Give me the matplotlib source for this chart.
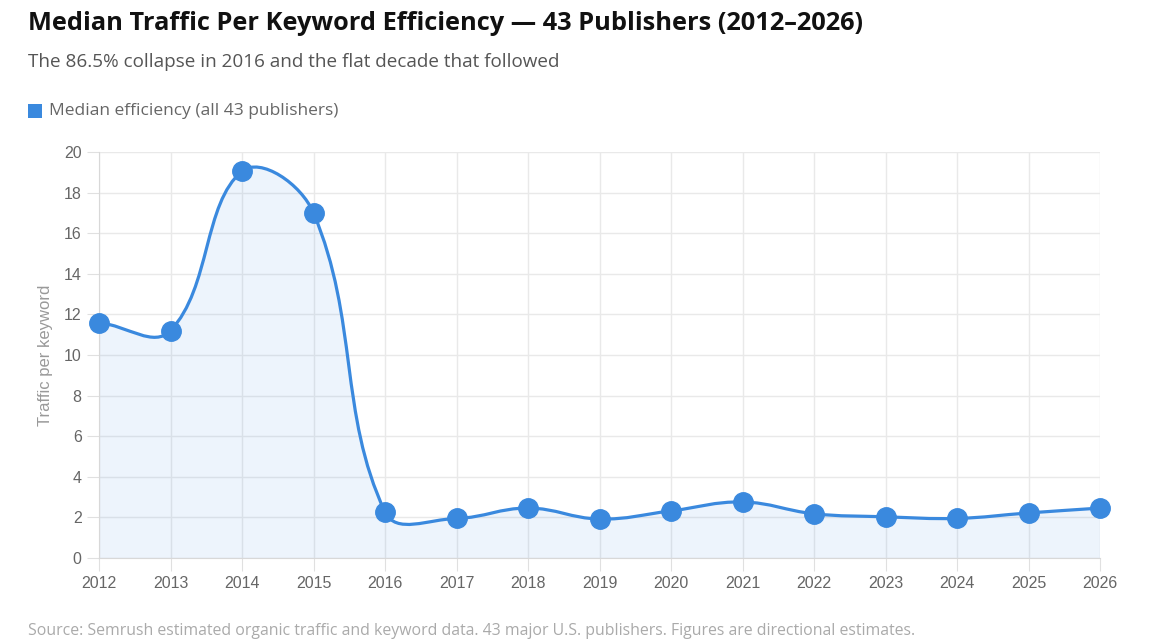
import numpy as np
import matplotlib.pyplot as plt
from matplotlib.path import Path
from matplotlib.patches import PathPatch

years = [2012, 2013, 2014, 2015, 2016, 2017, 2018, 2019, 2020, 2021, 2022, 2023, 2024, 2025, 2026]
efficiency = [11.6, 11.2, 19.05, 17.0, 2.27, 1.95, 2.46, 1.92, 2.32, 2.76, 2.18, 2.03, 1.95, 2.22, 2.46]

title = "Median Traffic Per Keyword Efficiency \u2014 43 Publishers (2012\u20132026)"
subtitle = "The 86.5% collapse in 2016 and the flat decade that followed"
legend_label = "Median efficiency (all 43 publishers)"
source = "Source: Semrush estimated organic traffic and keyword data. 43 major U.S. publishers. Figures are directional estimates."

blue = "#3a89de"
plt.rcParams['font.family'] = ['Liberation Sans', 'DejaVu Sans']

fig = plt.figure(figsize=(11.72, 6.42), dpi=100)
ax = fig.add_axes([99 / 1172, 84 / 642, 1001 / 1172, 406 / 642])

# chart.js style bezier (tension 0.4), control points computed in pixel space
x = np.array(years, dtype=float)
y = np.array(efficiency, dtype=float)
sx, sy = 1001 / 14, 406 / 20
px, py = x * sx, y * sy
t = 0.4
cp_in, cp_out = [], []
for i in range(len(px)):
    p0 = max(i - 1, 0)
    p2 = min(i + 1, len(px) - 1)
    d01 = np.hypot(px[i] - px[p0], py[i] - py[p0])
    d12 = np.hypot(px[p2] - px[i], py[p2] - py[i])
    tot = d01 + d12 if d01 + d12 > 0 else 1
    fa, fb = t * d01 / tot, t * d12 / tot
    dx, dy = px[p2] - px[p0], py[p2] - py[p0]
    cp_in.append(((px[i] - fa * dx) / sx, (py[i] - fa * dy) / sy))
    cp_out.append(((px[i] + fb * dx) / sx, (py[i] + fb * dy) / sy))

verts = [(x[0], y[0])]
codes = [Path.MOVETO]
for i in range(1, len(x)):
    verts += [cp_out[i - 1], cp_in[i], (x[i], y[i])]
    codes += [Path.CURVE4] * 3

line_path = Path(verts, codes)
fill_verts = verts + [(x[-1], 0), (x[0], 0), (x[0], y[0])]
fill_codes = codes + [Path.LINETO, Path.LINETO, Path.CLOSEPOLY]
ax.add_patch(PathPatch(Path(fill_verts, fill_codes), facecolor=blue, alpha=0.09, edgecolor='none', zorder=1))
ax.add_patch(PathPatch(line_path, facecolor='none', edgecolor=blue, lw=2.3, zorder=3))
ax.plot(years, efficiency, 'o', color=blue, markersize=14, zorder=4, clip_on=False)

ax.set_xlim(2012, 2026)
ax.set_ylim(0, 20)
ax.set_xticks(years)
ax.set_yticks(range(0, 21, 2))
ax.grid(True, color='#e9e9e9', lw=1)
ax.set_axisbelow(True)
for s in ['top', 'right']:
    ax.spines[s].set_visible(False)
for s in ['left', 'bottom']:
    ax.spines[s].set_color('#d8d8d8')
ax.tick_params(colors='#e0e0e0', length=9, labelcolor='#666666', labelsize=11.5)
ax.tick_params(axis='x', pad=4)
ax.set_ylabel("Traffic per keyword", color='#999999', fontsize=12, labelpad=8)

fig.text(28 / 1172, 1 - 23 / 642, title, fontsize=18.3, fontweight='bold', color='#111111',
         va='center', ha='left', family=['Open Sans', 'DejaVu Sans'])
fig.text(28 / 1172, 1 - 62 / 642, subtitle, fontsize=13.6, color='#555555', va='center', ha='left',
         family=['Open Sans', 'DejaVu Sans'])
fig.patches.append(plt.Rectangle((28 / 1172, 1 - 118 / 642), 14 / 1172, 14 / 642, transform=fig.transFigure,
                                 facecolor=blue, edgecolor='none'))
fig.text(49 / 1172, 1 - 111 / 642, legend_label, fontsize=12.5, color='#666666', va='center', ha='left',
         family=['Open Sans', 'DejaVu Sans'])
fig.text(28 / 1172, 1 - 631 / 642, source, fontsize=11.4, color='#aaaaaa', va='center', ha='left',
         family=['Open Sans', 'DejaVu Sans'])

plt.savefig("out.png", dpi=100)
